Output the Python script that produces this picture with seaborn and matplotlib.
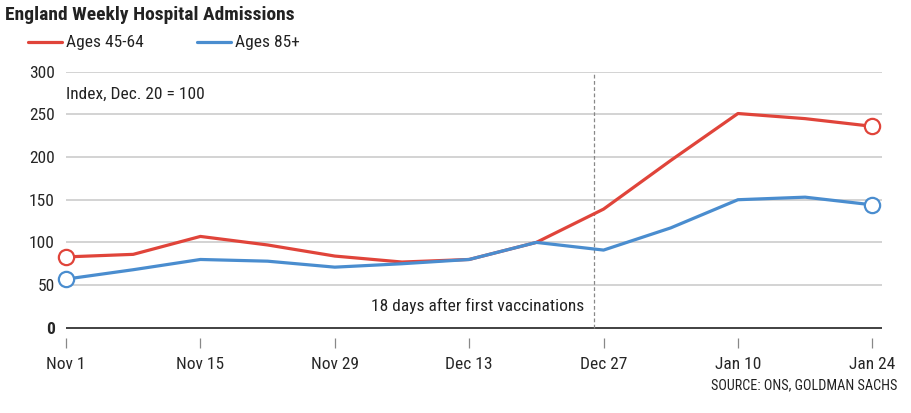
import pandas as pd
import seaborn as sns
import matplotlib.pyplot as plt
from matplotlib import font_manager
from matplotlib.lines import Line2D

# Data (index, Dec. 20 = 100)
weeks = pd.date_range("2020-11-01", "2021-01-24", freq="7D")
ages_45_64 = [83, 86, 107, 97, 84, 77, 80, 100, 139, 196, 251, 245, 236]
ages_85_plus = [57, 68, 80, 78, 71, 75, 80, 100, 91, 117, 150, 153, 144]
tick_dates = pd.date_range("2020-11-01", "2021-01-24", freq="14D")
tick_labels = ["Nov 1", "Nov 15", "Nov 29", "Dec 13", "Dec 27", "Jan 10", "Jan 24"]
vaccine_line = pd.Timestamp("2020-12-26")

red = "#e0443a"
blue = "#4a8dcf"

df = pd.DataFrame({
    "week": list(weeks) * 2,
    "value": ages_45_64 + ages_85_plus,
    "group": ["Ages 45-64"] * len(weeks) + ["Ages 85+"] * len(weeks),
})

sns.set_style("white")
names = {f.name for f in font_manager.fontManager.ttflist}
font = "Roboto Condensed" if "Roboto Condensed" in names else "DejaVu Sans"
plt.rcParams["font.family"] = [font, "DejaVu Sans"]
plt.rcParams["text.color"] = "#222222"
fs = 12.5

fig = plt.figure(figsize=(9.12, 4.13), dpi=100)
ax = fig.add_axes([0.0724, 0.1816, 0.8946, 0.6448])

sns.lineplot(data=df, x="week", y="value", hue="group",
             palette={"Ages 45-64": red, "Ages 85+": blue},
             linewidth=2.3, legend=False, ax=ax, zorder=3)

# open circles on first and last points
for vals, c in [(ages_45_64, red), (ages_85_plus, blue)]:
    ax.plot([weeks[0], weeks[-1]], [vals[0], vals[-1]], "o", ms=11,
            mfc="white", mec=c, mew=1.6, zorder=4, clip_on=False)

ax.set_ylim(-12, 300)
ax.set_xlim(pd.Timestamp("2020-11-01"), pd.Timestamp("2021-01-25"))

for y in range(50, 301, 50):
    ax.axhline(y, color="#c8c8c8", lw=1.1, zorder=1)
ax.axhline(0, color="#333333", lw=1.3, zorder=2)
ax.plot([vaccine_line, vaccine_line], [0, 300], ls=(0, (3, 2)),
        color="#888888", lw=0.9, zorder=2)

for s in ax.spines.values():
    s.set_visible(False)

ax.set_xticks(tick_dates)
ax.set_xticklabels(tick_labels, fontsize=fs)
ax.tick_params(axis="x", direction="out", length=7.5, width=0.9,
               color="#888888", pad=6, bottom=True)
ax.set_yticks(range(0, 301, 50))
ax.set_yticklabels([str(v) for v in range(0, 301, 50)], fontsize=fs)
ax.get_yticklabels()[0].set_fontweight("bold")
ax.tick_params(axis="y", length=0, pad=8)
ax.set_xlabel("")
ax.set_ylabel("")

ax.text(weeks[0], 273, "Index, Dec. 20 = 100", fontsize=fs, va="center", ha="left")
ax.text(pd.Timestamp("2020-12-25"), 25, "18 days after first vaccinations",
        fontsize=fs, va="center", ha="right")

fig.text(0.006, 0.964, "England Weekly Hospital Admissions", fontsize=14,
         fontweight="bold", va="center", ha="left")

# legend drawn by hand at the top
for x0, label, c in [(28, "Ages 45-64", red), (197, "Ages 85+", blue)]:
    fig.add_artist(Line2D([x0 / 912, (x0 + 34) / 912], [0.898, 0.898],
                          color=c, lw=2.3, transform=fig.transFigure))
    fig.text((x0 + 38) / 912, 0.898, label, fontsize=fs, va="center", ha="left")

fig.text(0.984, 0.068, "SOURCE: ONS, GOLDMAN SACHS", fontsize=10.2,
         va="center", ha="right")

fig.savefig("out.png", dpi=100)
